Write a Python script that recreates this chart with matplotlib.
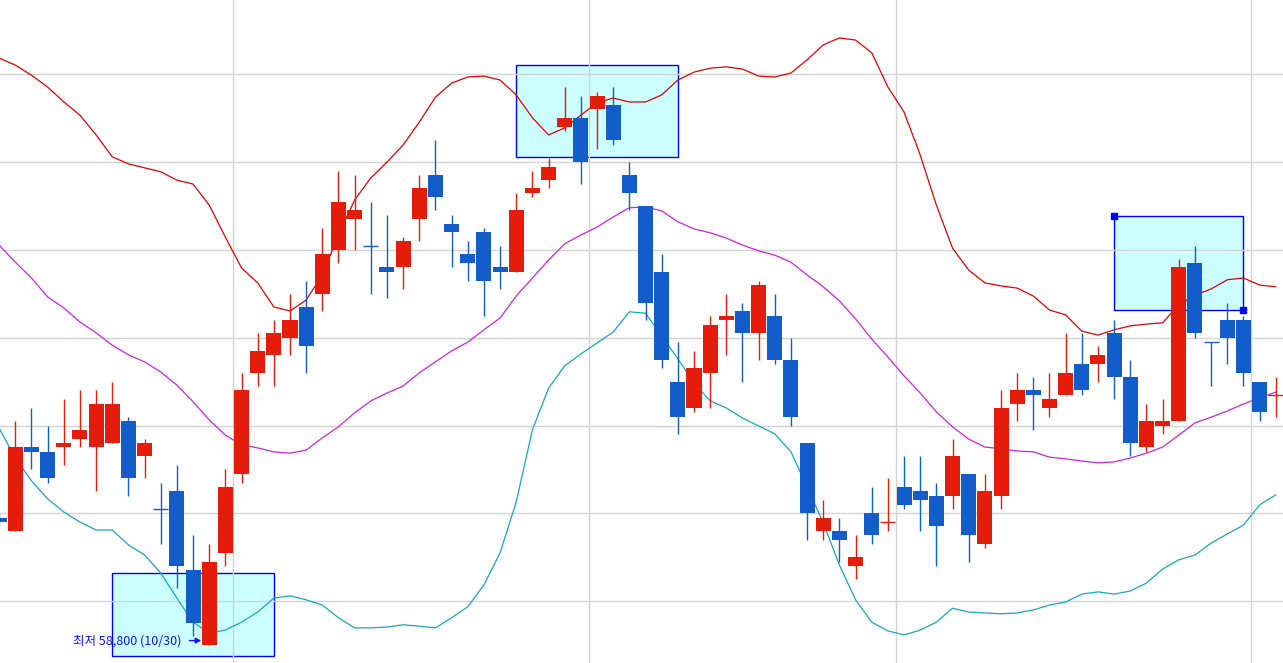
import numpy as np
import matplotlib.pyplot as plt
from matplotlib.patches import Rectangle

plt.rcParams['font.family'] = ['Noto Sans CJK KR', 'DejaVu Sans']

# 일봉 시세 (원)
open_ = [61700, 61400, 63300, 63200, 63300, 63500, 63300, 63400, 63900, 63100,
         61900, 62300, 60500, 58800, 60900, 62700, 65000, 65400, 65800, 66500,
         66800, 67800, 68500, 67900, 67400, 67400, 68500, 69500, 68400, 67700,
         68200, 67400, 67300, 69100, 69400, 70600, 70800, 71000, 71100, 69500,
         68800, 67300, 64800, 64200, 65000, 66200, 66400, 65900, 66300, 65300,
         63400, 61400, 61400, 60600, 61800, 61600, 62400, 62300, 62200, 62200,
         62700, 61100, 62200, 64300, 64600, 64200, 64500, 65200, 65200, 65900,
         64900, 63300, 63800, 63900, 67500, 65700, 66200, 66200, 64800, 64500]
high = [61800, 63900, 64200, 63800, 64400, 64600, 64600, 64800, 64000, 63500,
        62500, 62900, 61300, 61100, 62800, 65000, 65900, 66200, 66800, 67100,
        68300, 69600, 69500, 68900, 68600, 68100, 69500, 70300, 68600, 68000,
        68300, 67900, 69100, 69600, 69900, 71500, 71300, 71400, 71500, 69800,
        68800, 67700, 65700, 65500, 66300, 66800, 66600, 67100, 66800, 65800,
        63400, 62100, 61700, 61300, 62400, 62600, 63100, 63100, 62500, 63500,
        62700, 62700, 64600, 65000, 64900, 65000, 65900, 65900, 65600, 66200,
        65300, 64300, 64400, 67600, 67900, 65700, 66600, 66300, 64800, 64900]
low = [61500, 61400, 62800, 62500, 62900, 63300, 62300, 63400, 62200, 62600,
       61100, 60100, 59000, 58800, 60600, 62500, 64700, 64700, 65400, 65000,
       66400, 67500, 67800, 66800, 66700, 66900, 68000, 68700, 67400, 67100,
       66300, 66900, 67300, 69000, 69200, 70500, 69300, 70100, 70200, 68700,
       66200, 65100, 63600, 64100, 64200, 65400, 64800, 65300, 65200, 63800,
       61200, 61200, 60700, 60300, 61100, 61400, 61900, 61400, 60600, 61900,
       60700, 61000, 61900, 63900, 63700, 64000, 64500, 64500, 64800, 64400,
       63100, 63200, 63600, 63900, 65800, 64700, 65200, 64700, 63900, 64000]
close = [61600, 63300, 63200, 62600, 63400, 63700, 64300, 64300, 62600, 63400,
         61900, 60600, 59300, 60700, 62400, 64600, 65500, 65900, 66200, 65600,
         67700, 68900, 68700, 67900, 67300, 68000, 69200, 69000, 68200, 67500,
         67100, 67300, 68700, 69200, 69700, 70800, 69800, 71300, 70300, 69100,
         66600, 65300, 64000, 65100, 66100, 66300, 65900, 67000, 65300, 64000,
         61800, 61700, 61200, 60800, 61300, 61600, 62000, 62100, 61500, 63100,
         61300, 62300, 64200, 64600, 64500, 64400, 65000, 64600, 65400, 64900,
         63400, 63900, 63900, 67400, 65900, 65700, 65800, 65000, 64100, 64500]

# 볼린저 밴드 (20일)
bb_upper = [72170, 72010, 71780, 71510, 71170, 70870, 70420, 69920, 69760, 69670,
            69580, 69390, 69300, 68820, 68090, 67390, 67050, 66500, 66410, 66660,
            67230, 68140, 68940, 69440, 69800, 70190, 70710, 71280, 71600, 71740,
            71760, 71670, 71330, 70810, 70420, 70580, 70870, 71150, 71260, 71170,
            71170, 71330, 71670, 71850, 71940, 71970, 71920, 71760, 71740, 71830,
            72130, 72470, 72630, 72580, 72290, 71510, 70940, 69960, 68820, 67840,
            67340, 67050, 66980, 66930, 66750, 66430, 66320, 65950, 65860, 65980,
            66070, 66110, 66140, 66550, 66770, 66910, 67120, 67160, 67000, 66960]
bb_mid = [67910, 67520, 67160, 66730, 66480, 66160, 65910, 65630, 65410, 65250,
          65020, 64720, 64340, 63930, 63580, 63360, 63290, 63200, 63170, 63240,
          63520, 63770, 64090, 64360, 64540, 64700, 65000, 65250, 65500, 65700,
          65980, 66250, 66750, 67160, 67570, 67940, 68140, 68320, 68550, 68760,
          68780, 68690, 68440, 68280, 68190, 68070, 67910, 67780, 67680, 67520,
          67230, 66960, 66640, 66230, 65770, 65360, 64930, 64540, 64110, 63770,
          63490, 63310, 63270, 63220, 63200, 63080, 63040, 62990, 62950, 62970,
          63060, 63170, 63310, 63580, 63860, 63990, 64130, 64290, 64430, 64560]
bb_lower = [63740, 63060, 62540, 62130, 61830, 61600, 61420, 61420, 61080, 60850,
            60440, 59870, 59320, 59070, 59140, 59320, 59550, 59870, 59920, 59830,
            59710, 59420, 59190, 59190, 59210, 59260, 59230, 59190, 59420, 59670,
            60170, 60900, 62060, 63700, 64650, 65160, 65430, 65680, 65930, 66390,
            66360, 65840, 65320, 64770, 64360, 64200, 63970, 63790, 63610, 63200,
            62400, 61580, 60620, 59830, 59320, 59120, 59030, 59140, 59320, 59640,
            59550, 59530, 59510, 59530, 59600, 59710, 59780, 59960, 60010, 59960,
            60030, 60210, 60530, 60740, 60850, 61120, 61330, 61530, 61990, 62220]

# 월 시작 봉 (11/1, 12/1, 1/2, 2/1)
month_starts = [15, 37, 56, 78]
low_date = "10/30"

# 추세 구간 표시 박스
box_start = [7, 32, 69]
box_end = [17, 42, 77]
box_low = [58550, 69920, 66430]
box_high = [60440, 72010, 68570]

o = np.array(open_)
h = np.array(high)
l = np.array(low)
c = np.array(close)
x = np.arange(len(o))

red = '#e61c0a'
blue = '#135dcb'
colors = []
for i in range(len(o)):
    if c[i] > o[i]:
        colors.append(red)
    elif c[i] < o[i]:
        colors.append(blue)
    else:
        colors.append(red if i > 0 and c[i] > c[i - 1] else blue)

fig = plt.figure(figsize=(12.83, 6.63), dpi=100)
ax = fig.add_axes([0, 0, 1, 1])

for xs, xe, lo, hi in zip(box_start, box_end, box_low, box_high):
    ax.add_patch(Rectangle((xs, lo), xe - xs, hi - lo, facecolor='#ccffff',
                           edgecolor='#0000ff', lw=1.0, zorder=0.3))
ax.plot([box_start[2], box_end[2]], [box_high[2], box_low[2]], ls='none',
        marker='s', ms=4.5, color='#0000ff', zorder=4)

ax.plot(x, bb_upper, color='#e00000', lw=0.9, zorder=2)
ax.plot(x, bb_mid, color='#cc22dd', lw=0.9, zorder=2)
ax.plot(x, bb_lower, color='#16a8b8', lw=0.9, zorder=2)

w = 0.93
ax.vlines(x, l, h, colors=colors, lw=1.0, zorder=2.9)
ax.bar(x, np.abs(c - o), bottom=np.minimum(o, c), width=w, color=colors,
       linewidth=0, zorder=3)
doji = np.where(c == o)[0]
ax.hlines(c[doji], x[doji] - w / 2, x[doji] + w / 2,
          colors=[colors[i] for i in doji], lw=1.0, zorder=3)

# 최저가 표시
i_low = int(np.argmin(l))
ax.annotate(f"최저 {l[i_low]:,} ({low_date})", xy=(i_low - w / 2 - 0.03, l[i_low] + 100),
            xytext=(-14.5, 0), textcoords='offset points', ha='right', va='center',
            fontsize=9, color='#1010ff',
            arrowprops=dict(arrowstyle='-|>', color='#1010ff', lw=1.0,
                            shrinkA=4, shrinkB=0, mutation_scale=8),
            zorder=5)

ax.set_xlim(0.053, 79.45)
ax.set_ylim(58390, 73493)
ax.set_yticks(np.arange(59800, 73000, 2000))
ax.set_xticks([m - 0.5 for m in month_starts])
ax.grid(True, color='#d3d3d3', lw=1.0)
ax.set_axisbelow(True)
ax.tick_params(length=0, labelbottom=False, labelleft=False)
for s in ax.spines.values():
    s.set_visible(False)

fig.savefig('out.png', dpi=100)
